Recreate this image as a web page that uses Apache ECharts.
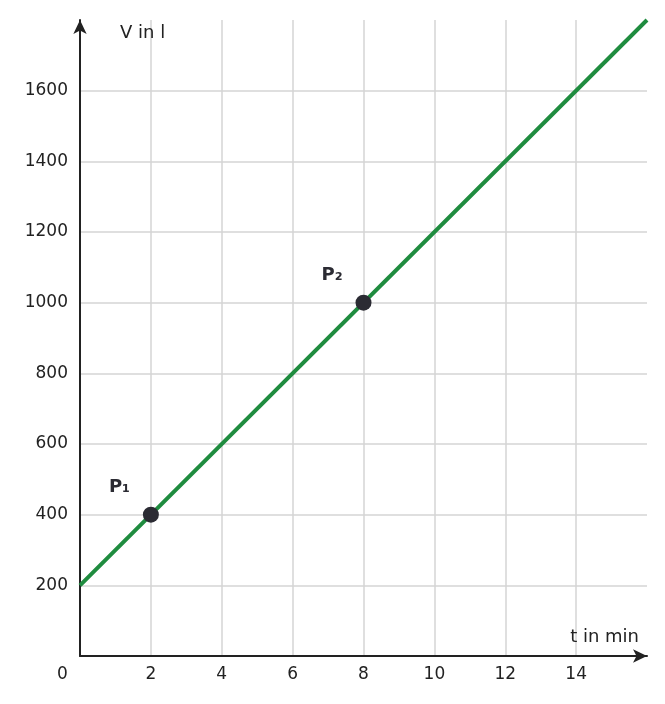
<!DOCTYPE html>
<html><head><meta charset="utf-8">
<script src="https://cdn.jsdelivr.net/npm/echarts@6/dist/echarts.min.js"></script>
<style>html,body{margin:0;padding:0;background:#fff}#c{width:665px;height:704px}</style>
</head><body><div id="c"></div>
<script>
const lineT = [0, 16];
const lineV = [200, 1800];
const pointNames = ['P₁', 'P₂'];
const pointT = [2, 8];
const pointV = [400, 1000];
const xTicks = [2, 4, 6, 8, 10, 12, 14];
const yTicks = [200, 400, 600, 800, 1000, 1200, 1400, 1600];

const chart = echarts.init(document.getElementById('c'));
const font = 'DejaVu Sans';
chart.setOption({
  animation: false,
  textStyle: {fontFamily: font},
  grid: {left: 80, right: 18, top: 20, bottom: 48},
  xAxis: {
    type: 'value', min: 0, max: 16, interval: 2,
    name: 't in min', nameLocation: 'end', nameGap: 0,
    nameTextStyle: {fontFamily: font, fontSize: 18, color: '#222', align: 'right', verticalAlign: 'bottom', padding: [0, 8, 10, 0]},
    axisLine: {lineStyle: {color: '#222', width: 2}, symbol: ['none', 'arrow'], symbolSize: [10, 14]},
    axisTick: {show: false},
    splitLine: {showMaxLine: false, lineStyle: {color: '#d4d4d4', width: 1.5}},
    axisLabel: {fontFamily: font, fontSize: 17, color: '#222', margin: 10,
      formatter: v => xTicks.includes(v) ? String(v) : ''}
  },
  yAxis: {
    type: 'value', min: 0, max: 1800, interval: 200,
    name: 'V in l', nameLocation: 'end', nameGap: 0,
    nameTextStyle: {fontFamily: font, fontSize: 18, color: '#222', align: 'left', verticalAlign: 'top', padding: [4, 0, 0, 40]},
    axisLine: {show: true, lineStyle: {color: '#222', width: 2}, symbol: ['none', 'arrow'], symbolSize: [10, 14]},
    axisTick: {show: false},
    splitLine: {showMaxLine: false, lineStyle: {color: '#d4d4d4', width: 1.5}},
    axisLabel: {fontFamily: font, fontSize: 17, color: '#222', margin: 12,
      formatter: v => yTicks.includes(v) ? String(v) : ''}
  },
  graphic: [{type: 'text', left: 57, top: 666, style: {text: '0', fontFamily: font, fontSize: 17, fill: '#222'}}],
  series: [
    {type: 'line', data: lineT.map((t, i) => [t, lineV[i]]), showSymbol: false, z: 2,
     lineStyle: {color: '#1f8c3f', width: 4}},
    {type: 'scatter', data: pointT.map((t, i) => [t, pointV[i]]), symbolSize: 16, z: 5,
     itemStyle: {color: '#2b2b33', opacity: 1},
     label: {show: true, formatter: p => pointNames[p.dataIndex], position: [-34, -28],
       fontFamily: font, fontWeight: 'bold', fontSize: 18, color: '#2b2b33'}}
  ]
});
</script></body></html>
